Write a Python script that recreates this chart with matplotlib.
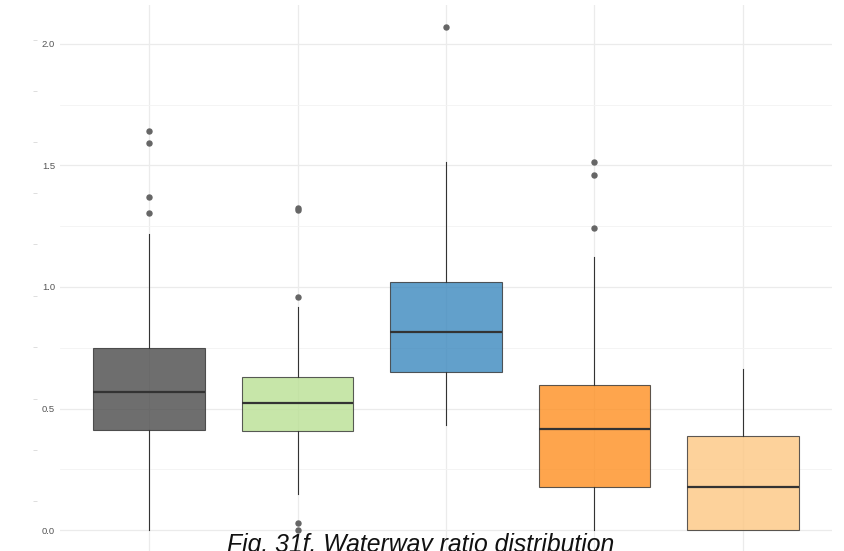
import matplotlib
matplotlib.use("Agg")
from matplotlib import pyplot as plt
from matplotlib.ticker import MultipleLocator

plt.rcParams['font.family'] = ['Liberation Sans', 'DejaVu Sans']

# five-number summaries (value units)
groups = ["g1", "g2", "g3", "g4", "g5"]
whis_lo = [0.0, 0.148, 0.432, 0.0, 0.0]
q1 = [0.412, 0.407, 0.650, 0.177, 0.0]
med = [0.568, 0.523, 0.815, 0.416, 0.177]
q3 = [0.749, 0.630, 1.021, 0.597, 0.387]
whis_hi = [1.218, 0.918, 1.514, 1.123, 0.663]
outliers = [
    [1.642, 1.593, 1.370, 1.305],
    [1.325, 1.317, 0.959, 0.027, 0.002],
    [2.070],
    [1.514, 1.461, 1.243],
    [],
]
fills = ["#4A4A4A", "#BAE094", "#3B88BE", "#FE8F21", "#FDC782"]

# stray tick marks that sit left of the labels in the reference
ghost_ticks = [2.016, 1.807, 1.597, 1.387, 1.177, 0.963, 0.753, 0.539, 0.329, 0.119]

title = "Fig. 31f. Waterway ratio distribution"

stats = []
for i in range(len(groups)):
    stats.append(dict(label=groups[i], whislo=whis_lo[i], q1=q1[i], med=med[i],
                      q3=q3[i], whishi=whis_hi[i], fliers=outliers[i]))

fig = plt.figure(figsize=(8.44, 5.51), dpi=100)
ax = fig.add_axes([60 / 844, 0.0, 772 / 844, 546 / 551])

# grid like ggplot theme_minimal
ax.set_axisbelow(True)
ax.yaxis.set_major_locator(MultipleLocator(0.5))
ax.yaxis.set_minor_locator(MultipleLocator(0.25))
ax.grid(which='major', color="#EBEBEB", linewidth=0.9)
ax.grid(which='minor', axis='y', color="#F3F3F3", linewidth=0.6)

bp = ax.bxp(stats, positions=range(1, len(groups) + 1), widths=0.75,
            patch_artist=True, showcaps=False,
            boxprops=dict(edgecolor="#333333", linewidth=0.8),
            medianprops=dict(color="#333333", linewidth=1.6),
            whiskerprops=dict(color="#333333", linewidth=0.8),
            flierprops=dict(marker='o', markersize=3.6, markerfacecolor="#666666",
                            markeredgecolor="#666666", linestyle='none'))
for patch, c in zip(bp['boxes'], fills):
    patch.set_facecolor(c)
    patch.set_alpha(0.8)
    patch.set_edgecolor("#333333")

ax.set_xlim(0.4, 5.6)
ax.set_ylim(-21 / 243, 525 / 243)
ax.set_xticks(range(1, len(groups) + 1))
ax.set_xticklabels([])
ax.tick_params(axis='x', length=0)
ax.tick_params(axis='y', which='both', length=0, labelsize=6.8,
               labelcolor="#555555", pad=3.5)
ax.set_yticks([0.0, 0.5, 1.0, 1.5, 2.0])
ax.set_yticklabels(["0.0", "0.5", "1.0", "1.5", "2.0"])
for s in ax.spines.values():
    s.set_visible(False)

# second y axis only for the faint stray ticks
ax2 = ax.twinx()
ax2.set_ylim(ax.get_ylim())
ax2.yaxis.set_ticks_position('left')
ax2.spines['left'].set_position(('outward', 16.5))
for s in ax2.spines.values():
    s.set_visible(False)
ax2.set_yticks(ghost_ticks)
ax2.set_yticklabels([])
ax2.tick_params(axis='y', which='major', length=3, width=0.7, color="#DDDDDD",
                direction='out')
ax2.tick_params(axis='y', which='minor', length=0)

# the title in the reference is clipped by the bottom edge
fig.text(421 / 844, -1 / 551, title, ha='center', va='baseline',
         fontsize=17.8, style='italic', color="#111111")

fig.savefig("out.png", dpi=100)
